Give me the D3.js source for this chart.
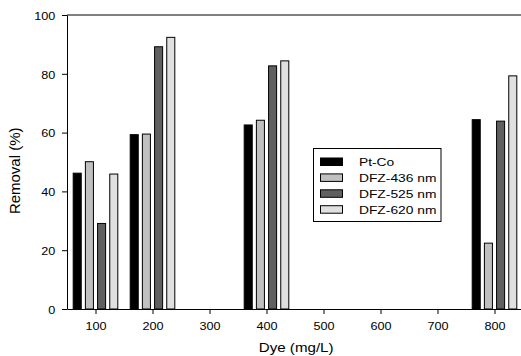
<!DOCTYPE html>
<html>
<head>
<meta charset="utf-8">
<script src="https://cdn.jsdelivr.net/npm/d3@7"></script>
<style>
  body { margin: 0; background: #fff; }
  text { font-family: Arial, "Liberation Sans", sans-serif; }
</style>
</head>
<body>
<div class="chart"></div>
<script>
var svgWidth = 521;
var svgHeight = 356;

// data
var doses = [100, 200, 400, 800];
var seriesNames = ["Pt-Co", "DFZ-436 nm", "DFZ-525 nm", "DFZ-620 nm"];
var ptCo = [46.2, 59.3, 62.6, 64.4];
var dfz436 = [50.1, 59.5, 64.2, 22.4];
var dfz525 = [29.1, 89.2, 82.7, 63.9];
var dfz620 = [45.9, 92.4, 84.4, 79.3];
var xTicks = [100, 200, 300, 400, 500, 600, 700, 800];
var yTicks = [0, 20, 40, 60, 80, 100];

var colors = ["#000000", "#c0c0c0", "#606060", "#e0e0e0"];
var allSeries = [ptCo, dfz436, dfz525, dfz620];

var margin = { top: 15, left: 67, bottom: 47 };
var plotRight = 523;
var height = svgHeight - margin.top - margin.bottom;
// the original figure's text is a bit wider than tall
var stretch = 1.18;

var svg = d3.select(".chart")
  .append("svg")
  .attr("width", svgWidth)
  .attr("height", svgHeight);

var chartGroup = svg.append("g")
  .attr("transform", `translate(${margin.left}, ${margin.top})`);

var xScale = d3.scaleLinear()
  .domain([50, 850])
  .range([0, plotRight - margin.left]);

var yScale = d3.scaleLinear()
  .domain([0, 100])
  .range([height, 0]);

// offsets of the 4 bars inside a group, in pixels
var inner = d3.scaleBand()
  .domain(d3.range(seriesNames.length))
  .range([-22.3, 22.3])
  .paddingInner(0.34);

// bars
var rows = [];
doses.forEach(function(d, i) {
  allSeries.forEach(function(s, j) {
    rows.push({ dose: d, series: j, value: s[i] });
  });
});

chartGroup.selectAll("rect.bar")
  .data(rows)
  .enter()
  .append("rect")
  .attr("class", "bar")
  .attr("x", d => xScale(d.dose) + inner(d.series))
  .attr("y", d => yScale(d.value))
  .attr("width", inner.bandwidth())
  .attr("height", d => height - yScale(d.value))
  .attr("fill", d => colors[d.series])
  .attr("stroke", "#000")
  .attr("stroke-width", 1);

// axes
var bottomAxis = d3.axisBottom(xScale).tickValues(xTicks).tickSize(5).tickSizeOuter(0);
var leftAxis = d3.axisLeft(yScale).tickValues(yTicks).tickSize(5).tickSizeOuter(0);

var xAxisG = chartGroup.append("g")
  .attr("transform", `translate(0, ${height})`)
  .call(bottomAxis);
var yAxisG = chartGroup.append("g")
  .call(leftAxis);

[xAxisG, yAxisG].forEach(function(g) {
  g.selectAll("text")
    .attr("font-family", "Arial, 'Liberation Sans', sans-serif")
    .attr("font-size", 10.7)
    .attr("fill", "#000")
    .attr("transform", `scale(${stretch},1)`);
  g.selectAll("line, path").attr("stroke", "#000");
});
xAxisG.selectAll("text").attr("dy", "1.2em");
yAxisG.selectAll("text").attr("x", -11.7 / stretch).attr("dy", "0.4em");

// top frame line
chartGroup.append("line")
  .attr("x1", 0)
  .attr("x2", plotRight - margin.left)
  .attr("y1", 0)
  .attr("y2", 0)
  .attr("stroke", "#000");

// axis labels
chartGroup.append("text")
  .attr("transform", `translate(-47, ${yScale(47)}) rotate(-90) scale(1.07,1)`)
  .attr("text-anchor", "middle")
  .attr("font-size", 14)
  .text("Removal (%)");

chartGroup.append("text")
  .attr("transform", `translate(${xScale(452)}, ${height + 43}) scale(1.12,1)`)
  .attr("text-anchor", "middle")
  .attr("font-size", 13.5)
  .text("Dye (mg/L)");

// legend
var legend = svg.append("g")
  .attr("transform", "translate(313.5, 148.5)");

legend.append("rect")
  .attr("width", 127.5)
  .attr("height", 73)
  .attr("fill", "#fff")
  .attr("stroke", "#000");

var items = legend.selectAll("g.item")
  .data(seriesNames)
  .enter()
  .append("g")
  .attr("class", "item")
  .attr("transform", (d, i) => `translate(7, ${9.5 + i * 15.9})`);

items.append("rect")
  .attr("width", 22)
  .attr("height", 7.5)
  .attr("fill", (d, i) => colors[i])
  .attr("stroke", "#000");

items.append("text")
  .attr("transform", `translate(38.5, 4) scale(1.2,1)`)
  .attr("dy", "0.38em")
  .attr("font-size", 11.5)
  .text(d => d);
</script>
</body>
</html>
